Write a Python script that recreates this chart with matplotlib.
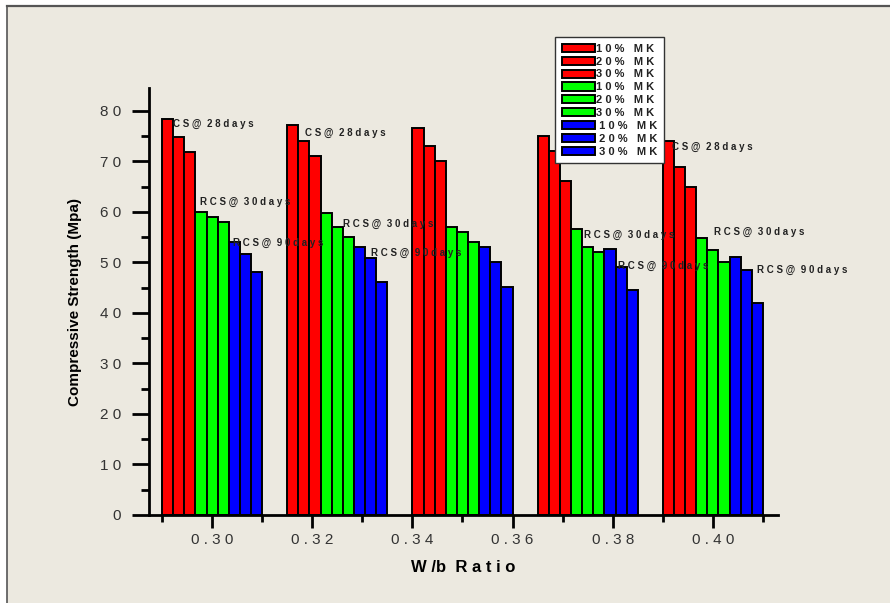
import matplotlib
matplotlib.use("Agg")
import matplotlib.pyplot as plt
from matplotlib.lines import Line2D
from matplotlib.ticker import MultipleLocator, FixedLocator
import numpy as np

# ------------------------------------------------------------
# data
# ------------------------------------------------------------
group_x = [0.30, 0.325, 0.35, 0.375, 0.40]      # group centres on the W/b axis

cs28_10 = [78.4, 77.2, 76.6, 75.0, 74.1]
cs28_20 = [74.9, 74.0, 73.0, 72.0, 68.8]
cs28_30 = [71.9, 71.1, 70.0, 66.0, 64.9]
rcs30_10 = [59.9, 59.8, 57.0, 56.6, 54.8]
rcs30_20 = [58.9, 57.0, 56.0, 53.0, 52.5]
rcs30_30 = [57.9, 55.0, 54.0, 52.0, 50.0]
rcs90_10 = [54.0, 53.1, 53.0, 52.7, 51.0]
rcs90_20 = [51.7, 50.9, 50.0, 49.0, 48.4]
rcs90_30 = [48.1, 46.1, 45.1, 44.6, 42.0]

series = [cs28_10, cs28_20, cs28_30,
          rcs30_10, rcs30_20, rcs30_30,
          rcs90_10, rcs90_20, rcs90_30]
labels = ['10% MK', '20% MK', '30% MK'] * 3
colors = ['#ff0000'] * 3 + ['#00ff00'] * 3 + ['#0000ff'] * 3

xticks_major = [0.30, 0.32, 0.34, 0.36, 0.38, 0.40]
yticks_major = [0, 10, 20, 30, 40, 50, 60, 70, 80]

# annotation text and where it sits (data coords)
notes = [
    ('CS@ 28days', 0.2922, 77.4), ('RCS@ 30days', 0.2976, 62.0), ('RCS@ 90days', 0.3042, 53.9),
    ('CS@ 28days', 0.3186, 75.6), ('RCS@ 30days', 0.3262, 57.6), ('RCS@ 90days', 0.3318, 51.9),
    ('RCS@ 30days', 0.3742, 55.4), ('RCS@ 90days', 0.3810, 49.3),
    ('CS@ 28days', 0.3918, 72.9), ('RCS@ 30days', 0.4002, 56.0), ('RCS@ 90days', 0.4088, 48.5),
]


def spaced(s, sep=' '):
    return sep.join(s)


bg = '#ece9e0'
plt.rcParams['font.family'] = ['Liberation Sans', 'DejaVu Sans']

fig = plt.figure(figsize=(8.9, 6.03), dpi=100, facecolor='white')
# beige panel with a thin grey frame at top / left
fig.patches.append(plt.Rectangle((7 / 890, 0), 1, 1 - 6 / 603, transform=fig.transFigure,
                                 facecolor=bg, edgecolor='none', zorder=-10))
fig.add_artist(Line2D([7 / 890, 7 / 890], [0, 1 - 6 / 603], color='#555555', lw=1.2))
fig.add_artist(Line2D([7 / 890, 1], [1 - 6 / 603, 1 - 6 / 603], color='#555555', lw=1.6))

ax = fig.add_axes([149 / 890, 88 / 603, (778 - 149) / 890, (515 - 88) / 603])
ax.set_facecolor(bg)

n = len(series)
bw = 0.02 / n
gx = np.array(group_x)
for j, (vals, lab, col) in enumerate(zip(series, labels, colors)):
    xs = gx - 0.01 + j * bw
    lead = ' ' if j >= 6 else ''
    ax.bar(xs, vals, width=bw, align='edge', color=col, edgecolor='black',
           linewidth=1.4, label=lead + spaced(lab.replace(' ', '')).replace('% M', '%   M'))

for txt, x, y in notes:
    ax.text(x, y, spaced(txt.replace(' ', '')).replace('@', '@ '),
            fontsize=7, fontweight='bold', color='#222222', va='center', ha='left',
            clip_on=False, zorder=4)

ax.set_xlim(0.2874, 0.413)
ax.set_ylim(0, 84.5)

for s in ['top', 'right']:
    ax.spines[s].set_visible(False)
for s in ['left', 'bottom']:
    ax.spines[s].set_linewidth(2)

ax.xaxis.set_major_locator(FixedLocator(xticks_major))
ax.xaxis.set_minor_locator(MultipleLocator(0.01))
ax.set_xticklabels([spaced(f'{v:.2f}') for v in xticks_major])
ax.yaxis.set_major_locator(FixedLocator(yticks_major))
ax.yaxis.set_minor_locator(MultipleLocator(5))
ax.set_yticklabels([spaced(str(v)) for v in yticks_major])

ax.tick_params(axis='y', which='major', length=12, width=2, direction='out',
               labelsize=11, labelcolor='#333333', pad=8)
ax.tick_params(axis='y', which='minor', length=6, width=2, direction='out')
ax.tick_params(axis='x', which='major', length=9, width=2, direction='out',
               labelsize=11, labelcolor='#333333', pad=4)
ax.tick_params(axis='x', which='minor', length=5, width=2, direction='out')

ax.set_ylabel('Compressive Strength (Mpa)', fontsize=11, fontweight='bold', labelpad=13)
ax.set_xlabel('W /b  R a t i o', fontsize=12, fontweight='bold', labelpad=9)

leg = ax.legend(loc='upper left', bbox_to_anchor=(555 / 890, 1 - 37 / 603),
                bbox_transform=fig.transFigure, fontsize=8, frameon=True,
                fancybox=False, edgecolor='#333333', facecolor='white', framealpha=1,
                handlelength=3.0, handleheight=0.75, handletextpad=0.1,
                labelspacing=0.26, borderpad=0.6, borderaxespad=0)
leg.get_frame().set_linewidth(1.0)
for t in leg.get_texts():
    t.set_fontweight('bold')
    t.set_color('#222222')
leg.set_zorder(10)

fig.savefig('out.png', dpi=100, facecolor=fig.get_facecolor())
